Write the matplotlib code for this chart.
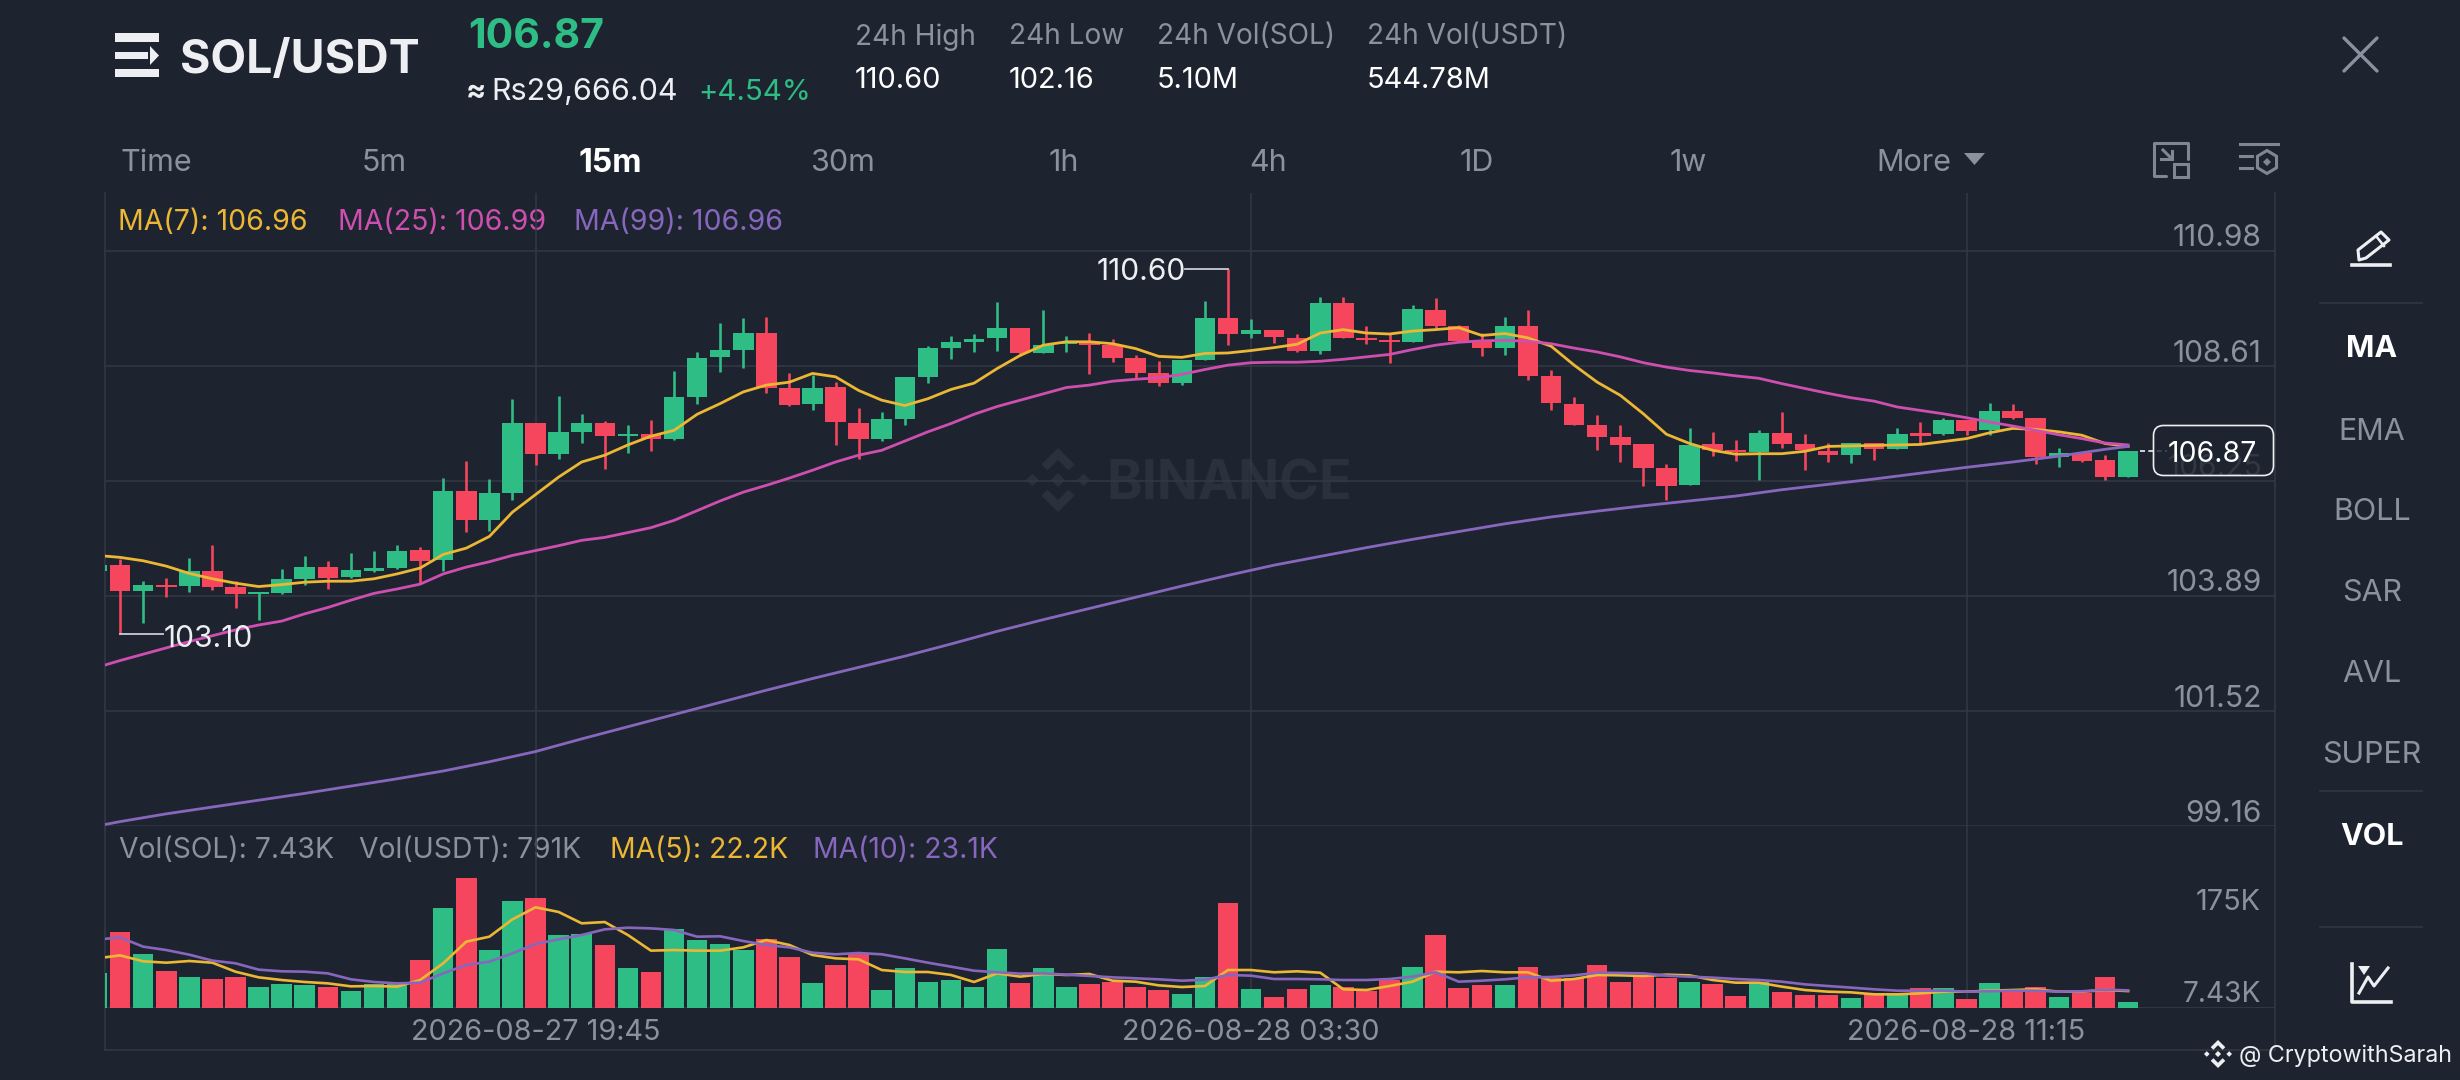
import numpy as np
import matplotlib
matplotlib.use("Agg")
import matplotlib.pyplot as plt
from matplotlib.patches import FancyBboxPatch, Polygon, Rectangle
from matplotlib.transforms import blended_transform_factory

plt.rcParams['font.family'] = ['Inter', 'DejaVu Sans']

open_ = [104.39,104.52,103.98,104.12,104.09,104.39,104.08,103.93,103.94,104.24,104.48,104.27,104.41,104.46,104.83,104.63,
 106.05,105.44,106.00,107.44,106.80,107.26,107.45,107.17,107.22,107.12,107.97,108.79,108.94,109.29,108.15,107.84,108.19,
 107.45,107.11,107.53,108.39,108.98,109.11,109.18,109.39,108.87,109.07,109.11,109.04,108.77,108.46,108.26,108.74,109.59,
 109.28,109.35,109.19,108.93,109.91,109.18,109.14,109.11,109.77,109.44,109.14,108.98,109.44,108.40,107.84,107.41,107.16,
 107.00,106.51,106.16,107.00,106.89,106.84,107.23,107.00,106.86,106.78,107.02,106.90,107.23,107.21,107.50,107.29,107.68,
 107.54,106.74,106.82,106.69,106.34]
close = [104.52,103.98,104.11,104.07,104.39,104.07,103.93,103.97,104.24,104.48,104.26,104.42,104.46,104.82,104.61,106.05,
 105.44,106.01,107.45,106.80,107.25,107.45,107.17,107.21,107.12,107.97,108.78,108.94,109.29,108.17,107.82,108.17,107.47,
 107.11,107.53,108.39,108.98,109.10,109.16,109.39,108.87,109.05,109.11,109.04,108.78,108.47,108.27,108.73,109.59,109.28,
 109.35,109.20,108.93,109.91,109.18,109.14,109.10,109.78,109.44,109.12,108.99,109.44,108.40,107.85,107.39,107.15,106.99,
 106.51,106.15,106.98,106.89,106.84,107.24,107.00,106.88,106.78,107.02,106.91,107.21,107.17,107.50,107.28,107.69,107.54,
 106.74,106.82,106.67,106.34,106.87]
high = [104.60,104.65,104.19,104.26,104.67,104.94,104.19,103.97,104.45,104.71,104.60,104.77,104.82,104.94,104.90,106.32,
 106.67,106.30,107.93,107.44,108.00,107.63,107.48,107.41,107.51,108.50,108.91,109.50,109.59,109.62,108.47,108.42,108.28,
 107.74,107.67,108.39,109.03,109.22,109.26,109.92,109.40,109.77,109.22,109.29,109.16,108.84,108.72,108.73,109.94,110.60,
 109.58,109.35,109.27,110.03,110.03,109.43,109.27,109.87,110.01,109.45,109.29,109.61,109.76,108.54,107.98,107.60,107.39,
 107.00,106.59,107.34,107.25,107.10,107.30,107.66,107.21,107.02,107.03,107.04,107.34,107.47,107.54,107.50,107.85,107.83,
 107.54,106.93,106.82,106.78,106.87]
low = [104.30,103.10,103.33,103.86,103.97,104.01,103.63,103.39,103.93,104.11,104.04,104.26,104.37,104.45,104.15,104.41,
 105.20,105.22,105.85,106.58,106.70,107.03,106.49,106.82,106.86,107.10,107.84,108.48,108.57,108.06,107.80,107.71,106.98,
 106.71,107.08,107.41,108.27,108.76,108.91,108.92,108.82,108.87,108.90,108.44,108.70,108.37,108.21,108.22,108.73,109.04,
 109.19,109.09,108.90,108.85,109.18,109.07,108.67,109.10,109.39,109.11,108.82,108.83,108.32,107.71,107.39,106.88,106.64,
 106.15,105.85,106.16,106.76,106.66,106.26,106.93,106.47,106.64,106.62,106.69,106.90,107.02,107.20,107.19,107.19,107.52,
 106.59,106.54,106.63,106.26,106.34]

ma7 = [104.72,104.68,104.61,104.50,104.35,104.24,104.15,104.08,104.12,104.17,104.19,104.19,104.24,104.34,104.46,104.74,
 104.87,105.11,105.61,105.97,106.33,106.64,106.78,106.99,107.17,107.29,107.62,107.84,108.08,108.22,108.28,108.46,108.39,
 108.11,107.91,107.80,107.94,108.13,108.26,108.56,108.83,109.04,109.11,109.11,109.07,108.97,108.81,108.79,108.87,108.88,
 108.93,108.99,109.06,109.29,109.36,109.29,109.27,109.33,109.36,109.40,109.24,109.28,109.19,109.02,108.63,108.28,108.01,
 107.63,107.21,107.02,106.88,106.80,106.81,106.81,106.86,106.96,106.97,106.98,106.99,107.00,107.06,107.12,107.24,107.33,
 107.31,107.26,107.19,107.02,106.96]
ma25 = [102.42,102.56,102.69,102.82,102.95,103.07,103.19,103.29,103.37,103.52,103.65,103.80,103.94,104.03,104.13,104.34,
 104.48,104.59,104.72,104.82,104.92,105.03,105.09,105.19,105.29,105.44,105.64,105.84,106.02,106.16,106.31,106.47,106.64,
 106.78,106.88,107.07,107.26,107.43,107.62,107.78,107.91,108.04,108.17,108.22,108.30,108.34,108.37,108.44,108.54,108.63,
 108.68,108.69,108.69,108.71,108.75,108.80,108.85,108.95,109.04,109.10,109.13,109.14,109.12,109.07,108.98,108.90,108.80,
 108.68,108.59,108.52,108.47,108.41,108.36,108.25,108.15,108.05,107.96,107.89,107.77,107.70,107.63,107.55,107.46,107.38,
 107.29,107.20,107.12,107.03,106.99]
ma99_at = [-1,0,2,4,6,8,10,12,14,16,18,20,22,24,26,28,30,32,34,36,38,40,42,44,46,48,50,52,54,56,58,60,62,64,66,70,72,74,76,78,80,82,84,86,87]
ma99 = [99.16,99.25,99.41,99.55,99.69,99.83,99.98,100.13,100.29,100.48,100.69,100.95,101.20,101.45,101.70,101.95,102.19,
 102.42,102.65,102.90,103.16,103.40,103.63,103.86,104.09,104.31,104.52,104.70,104.88,105.05,105.21,105.37,105.51,105.63,
 105.74,105.94,106.07,106.18,106.29,106.41,106.53,106.64,106.76,106.90,106.96]

volume = [46.3,100.1,70.8,48.1,40.6,37.6,40.6,27.5,31.5,30.2,27.1,22.7,31.5,31.5,62.9,131.1,170.4,75.6,140.7,143.8,96.1,97.0,
 83.0,52.4,46.8,104.0,89.1,84.3,76.0,90.5,66.9,32.8,56.4,72.5,24.0,52.0,34.5,36.3,27.1,77.3,32.3,52.4,27.1,31.9,34.5,28.0,
 23.6,18.4,40.6,137.2,24.5,14.0,25.3,30.2,27.1,21.9,36.7,54.2,95.3,26.2,30.2,30.6,54.2,38.9,38.9,56.4,34.1,42.0,38.9,34.5,
 31.9,16.2,34.5,21.0,17.5,17.5,13.5,19.2,19.2,26.2,26.7,12.2,33.2,24.5,28.0,14.0,19.2,40.6,7.43]
vol_ma5 = [65.1,69.0,61.2,59.4,61.6,59.4,47.6,40.2,36.7,34.1,32.3,28.4,28.8,28.0,36.7,58.6,87.0,93.5,116.2,132.0,125.9,111.0,
 112.7,95.7,75.2,76.0,75.2,75.2,79.5,89.1,82.6,69.5,65.1,63.8,49.8,47.2,47.2,43.3,34.1,45.4,41.1,44.6,43.3,44.6,35.8,34.5,
 29.7,27.5,28.8,49.8,49.8,46.8,48.1,46.3,24.5,23.6,28.8,34.5,47.6,46.8,48.5,46.8,46.8,35.8,38.0,43.3,42.8,42.0,43.7,42.8,
 36.7,33.2,33.2,28.0,23.6,21.4,20.5,17.9,17.9,19.2,21.4,21.4,22.7,23.6,24.5,21.4,21.4,23.6,22.2]
vol_ma10 = [89.6,92.6,80.4,76.0,69.9,62.1,58.6,50.3,48.1,47.6,45.4,37.6,34.1,32.3,33.2,45.4,56.4,60.7,71.7,83.9,90.0,95.7,
 103.1,105.3,104.4,102.3,93.5,94.0,87.8,82.6,79.5,72.5,70.4,72.1,70.4,65.1,59.4,54.2,48.9,46.8,45.0,45.4,43.7,42.0,40.2,38.9,
 37.6,35.8,37.1,43.3,42.4,38.0,38.0,37.6,36.7,36.7,38.0,41.1,46.8,34.5,35.8,37.6,40.2,40.6,42.8,46.3,45.9,45.4,42.4,41.1,
 39.8,38.0,36.7,34.5,31.0,28.8,26.7,24.5,22.7,22.7,22.7,21.4,21.9,22.7,22.7,21.4,21.9,24.0,23.1]

candle_index = list(range(-1, 88))
price_ticks = [110.98, 108.61, 106.25, 103.89, 101.52, 99.16]
price_tick_labels = ['110.98', '108.61', '106.25', '103.89', '101.52', '99.16']
time_ticks = [18, 49, 80]
time_labels = ['2026-08-27 19:45', '2026-08-28 03:30', '2026-08-28 11:15']
nav_labels = ['Time', '5m', '15m', '30m', '1h', '4h', '1D', '1w', 'More']
side_labels = ['MA', 'EMA', 'BOLL', 'SAR', 'AVL', 'SUPER', 'VOL']
stats = [('24h High', '110.60'), ('24h Low', '102.16'), ('24h Vol(SOL)', '5.10M'), ('24h Vol(USDT)', '544.78M')]
last_price = 106.87

W, H = 2460, 1080
BG = '#1E242F'; GRID = '#323945'; GRAY = '#8B929F'; WHITE = '#EDEFF3'
GREEN = '#2EBD85'; RED = '#F6465D'; YEL = '#EBB734'; PINK = '#CE4FB0'; PUR = '#8767BE'
PX_PT = 0.72

fig = plt.figure(figsize=(W/100, H/100), dpi=100, facecolor=BG)

def pane(x0, y0, x1, y1, z):
    a = fig.add_axes([x0/W, 1-y1/H, (x1-x0)/W, (y1-y0)/H], zorder=z)
    return a

ui = pane(0, 0, W, H, 0); ui.set_xlim(0, W); ui.set_ylim(H, 0); ui.axis('off')
top = pane(0, 0, W, H, 5); top.set_xlim(0, W); top.set_ylim(H, 0); top.axis('off'); top.patch.set_alpha(0)

def T(x, y, s, px, color=GRAY, ha='left', weight='normal', axis=ui, **kw):
    return axis.text(x, y, s, fontsize=px*PX_PT, color=color, ha=ha, va='center_baseline', fontweight=weight, **kw)

def logo(a, cx, cy, r, color, z=1):
    tops = [(0,-.63),(-.33,-.30),(-.52,-.49),(0,-1),(.52,-.49),(.33,-.30)]
    for sgn in (1, -1):
        a.add_patch(Polygon([(cx+px*r, cy+sgn*py*r) for px, py in tops], fc=color, ec='none', zorder=z))
        a.add_patch(Polygon([(cx+sgn*(.8+dx)*r, cy+dy*r) for dx, dy in [(-.2,0),(0,-.2),(.2,0),(0,.2)]], fc=color, ec='none', zorder=z))
    a.add_patch(Polygon([(cx+dx*r, cy+dy*r) for dx, dy in [(-.22,0),(0,-.22),(.22,0),(0,.22)]], fc=color, ec='none', zorder=z))

# frame
for xs, ys in [([105,105],[193,1050]), ([2275,2275],[193,1050]), ([105,2275],[1050,1050]),
               ([2320,2422],[303,303]), ([2320,2422],[791,791]), ([2320,2422],[927,927])]:
    ui.plot(xs, ys, color=GRID, lw=1.1)

# watermark
logo(ui, 1058, 480, 32, '#2A303C')
T(1106, 480, 'BINANCE', 54, '#2A303C', weight='bold')

# main panes
xl = ((105-120.1)/23.08, (2275-120.1)/23.08)
ax = pane(105, 193, 2275, 826, 2)
ax.set_xlim(*xl); ax.set_ylim(99.16, 110.98+(250.7-193)/48.6)
axv = pane(105, 826, 2275, 1008, 2)
axv.set_xlim(*xl); axv.set_ylim(0, 182*1.311)
for a in (ax, axv):
    a.patch.set_alpha(0)
    for s in a.spines.values(): s.set_visible(False)
    a.set_yticks([])

ax.set_xticks([]); ax.tick_params(length=0)
ax.hlines(price_ticks, *xl, color=GRID, lw=1.1, zorder=1)
for a in (ax, axv):
    a.vlines(time_ticks, *a.get_ylim(), color=GRID, lw=1.1, zorder=1)
axv.hlines([0], *xl, color=GRID, lw=1.3, zorder=1)
axv.set_xticks(time_ticks, time_labels, color=GRAY, fontsize=28.8*PX_PT)
axv.tick_params(axis='x', length=0, pad=8)

idx = np.array(candle_index)
O, C, Hi, Lo = map(np.array, (open_, close, high, low))
assert all(len(v) == 89 for v in (O, C, Hi, Lo, ma7, ma25, volume, vol_ma5, vol_ma10))
colors = [GREEN if c >= o else RED for o, c in zip(O, C)]
ax.vlines(idx, Lo, Hi, colors=colors, lw=1.9, zorder=2)
ax.bar(idx, np.maximum(np.abs(C-O), 0.03), bottom=np.minimum(O, C), width=0.89, color=colors, zorder=3)
ax.plot(idx, ma7, color=YEL, lw=2.0, zorder=4, solid_joinstyle='round')
ax.plot(idx, ma25, color=PINK, lw=2.0, zorder=4, solid_joinstyle='round')
ax.plot(ma99_at, ma99, color=PUR, lw=2.0, zorder=4, solid_joinstyle='round')
axv.bar(idx, volume, width=0.89, color=colors, zorder=2)
axv.plot(idx, vol_ma5, color=YEL, lw=1.9, zorder=3)
axv.plot(idx, vol_ma10, color=PUR, lw=1.9, zorder=4)

# high / low callouts
ax.plot([48, 46.15], [110.60, 110.60], color='#C9CDD3', lw=1.3, zorder=5)
ax.annotate('110.60', xy=(46.1, 110.60), xytext=(1.5, 0), textcoords='offset points', ha='right', va='center_baseline',
            color=WHITE, fontsize=30*PX_PT, zorder=6)
ax.plot([0, 1.85], [103.10, 103.10], color='#C9CDD3', lw=1.3, zorder=5)
ax.annotate('103.10', xy=(1.9, 103.10), xytext=(0, -1), textcoords='offset points', ha='left', va='center_baseline',
            color=WHITE, fontsize=30*PX_PT, zorder=6)

# price scale
trans = blended_transform_factory(ax.transAxes, ax.transData)
for v, s in zip(price_ticks, price_tick_labels):
    ax.annotate(s, xy=(1, v), xycoords=trans, xytext=(-13*PX_PT, 15.5*PX_PT), textcoords='offset points',
                ha='right', va='center_baseline', color=GRAY, fontsize=30*PX_PT, zorder=6)

# last price
ax.plot([87.5, 88.7], [last_price]*2, color=WHITE, lw=1.2, ls=(0, (3, 2)), zorder=5)
top.add_patch(FancyBboxPatch((2161, 433), 105, 35, boxstyle='round,pad=7.5,rounding_size=10', fc=BG, alpha=.82, ec='none'))
top.add_patch(FancyBboxPatch((2161, 433), 105, 35, boxstyle='round,pad=7.5,rounding_size=10', fc='none', ec=WHITE, lw=1.2))
T(2212, 451, '106.87', 28.5, '#FFFFFF', ha='center', axis=top)

# volume scale
T(2261, 899, '175K', 29, ha='right')
T(2261, 991, '7.43K', 28, ha='right')

# legends
for x, s, c in [(118.5, 'MA(7): 106.96', YEL), (337.5, 'MA(25): 106.99', PINK), (573.5, 'MA(99): 106.96', PUR)]:
    T(x, 219, s, 28.5, c)
for x, s, c in [(119, 'Vol(SOL): 7.43K', GRAY), (359, 'Vol(USDT): 791K', GRAY), (610, 'MA(5): 22.2K', YEL), (813, 'MA(10): 23.1K', PUR)]:
    T(x, 847, s, 28.3, c)

# header
T(180, 56, 'SOL/USDT', 46.5, WHITE, weight='bold')
T(468, 33, '106.87', 41, GREEN, weight='bold')
T(466, 89, '≈', 30, WHITE, weight='bold')
T(491, 89, 'Rs29,666.04', 30.5, WHITE)
T(698, 89, '+4.54%', 29.5, GREEN)
for x, (a, b) in zip([855, 1009, 1157, 1367], stats):
    T(x, 34, a, 28, GRAY)
    T(x, 78, b, 29, '#FFFFFF')

# nav row
nav_x = [121, 384, 610, 842, 1064, 1268, 1477, 1688, 1914]
for i, (x, s) in enumerate(zip(nav_x, nav_labels)):
    T(x, 160, s, 32 if s == '15m' else 30.5, '#FFFFFF' if s == '15m' else GRAY, ha='left' if s == 'Time' else 'center', weight='bold' if s == '15m' else 'normal')
ui.add_patch(Polygon([(1964,153),(1985,153),(1974.5,165)], fc=GRAY, ec='none'))

# side panel
for y, s in zip([346, 428.5, 509, 590, 671, 752, 834], side_labels):
    act = s in ('MA', 'VOL')
    T(2372, y, s, 30.5, '#FFFFFF' if act else GRAY, ha='center', weight='bold' if act else 'normal')

# menu icon
for r in [(114.5,33,44.5,9), (114.5,52,33,7), (114.5,69,44.5,8)]:
    ui.add_patch(Rectangle(r[:2], r[2], r[3], fc=WHITE, ec='none'))
ui.add_patch(Polygon([(150,46),(159,55.5),(150,65)], fc=WHITE, ec='none'))

# close icon
ui.plot([2344,2377],[38,71], color=GRAY, lw=2.4, solid_capstyle='round')
ui.plot([2377,2344],[38,71], color=GRAY, lw=2.4, solid_capstyle='round')

# shrink icon
ICON = '#7F8794'
ui.plot([2166,2154,2154,2188,2188],[176,176,142.5,142.5,159], color=ICON, lw=2.2, solid_capstyle='round')
ui.add_patch(Rectangle((2174,164),13.5,12.5, fc='none', ec=ICON, lw=2.2))
ui.plot([2163,2172],[150,159], color=ICON, lw=2.2)
ui.plot([2172,2172],[151,159], color=ICON, lw=2.2)
ui.plot([2161,2172],[159,159], color=ICON, lw=2.2)

# settings icon
ui.plot([2240,2278],[144,144], color=ICON, lw=2.2)
ui.plot([2240,2252],[156,156], color=ICON, lw=2.2)
ui.plot([2240,2252],[168,168], color=ICON, lw=2.2)
ang = np.deg2rad(np.arange(30, 390, 60))
ui.add_patch(Polygon(np.c_[2267+11*np.cos(ang), 162+11.5*np.sin(ang)], fc='none', ec=ICON, lw=2.2))
ui.add_patch(Polygon([(2263,162),(2267,158),(2271,162),(2267,166)], fc=ICON, ec='none'))

# pencil icon
ui.plot([2352,2390],[265,265], color=WHITE, lw=2.6)
ui.add_patch(Polygon([(2358,250),(2381,232),(2389,240),(2366,258),(2359,260)], fc='none', ec=WHITE, lw=2.2, joinstyle='round'))
ui.plot([2376,2384],[236,246], color=WHITE, lw=1.8)

# chart icon
ui.plot([2352,2352,2391],[964,1002,1002], color=WHITE, lw=2.6)
ui.plot([2359,2368,2374,2388],[993,977,986,968], color=WHITE, lw=2.2)
ui.add_patch(Polygon([(2358,966),(2370,966),(2364,975)], fc=WHITE, ec='none'))

# credit
logo(top, 2218, 1054, 14, WHITE, z=6)
T(2239, 1053, '@ CryptowithSarah', 23.3, WHITE, axis=top)

fig.savefig('out.png', dpi=100, facecolor=BG)
